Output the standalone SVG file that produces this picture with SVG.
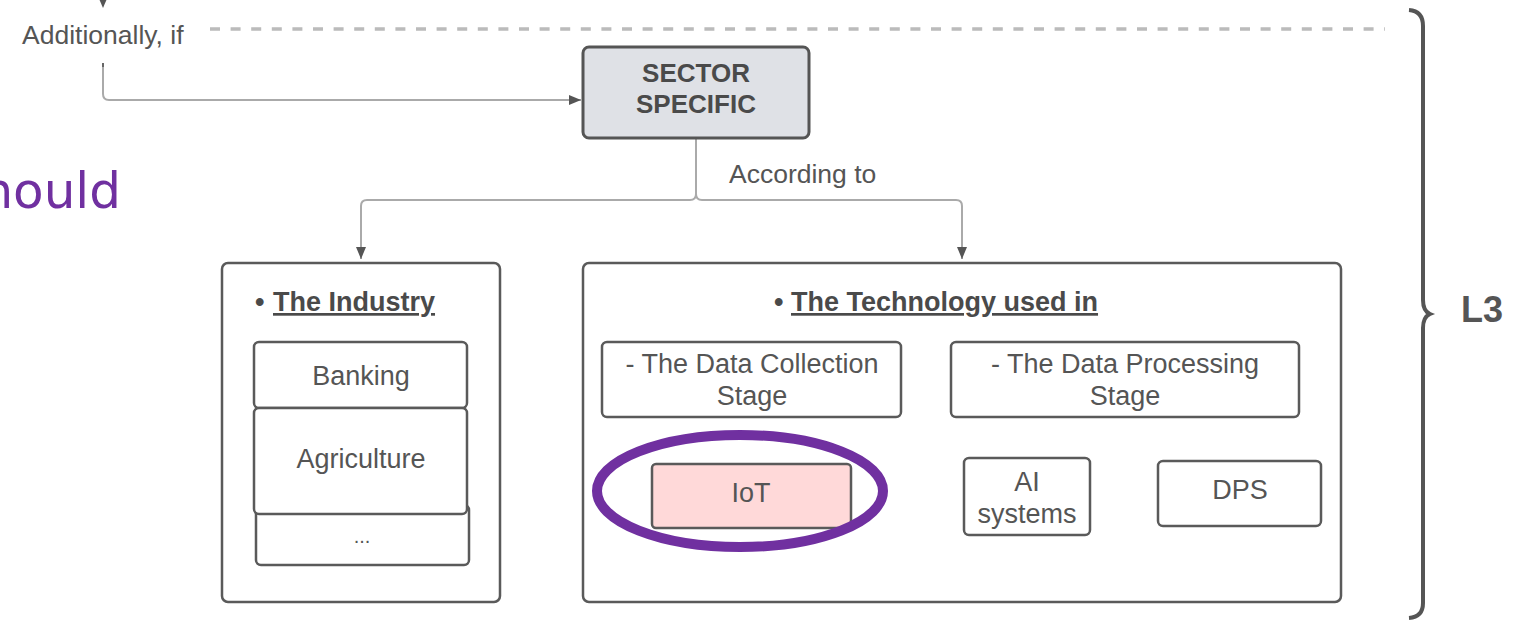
<svg xmlns="http://www.w3.org/2000/svg" width="1524" height="627" viewBox="0 0 1524 627">
<style>
.t{font-family:"Liberation Sans",Arial,sans-serif;font-size:27px;fill:#555;}
.c{text-anchor:middle;}
.b{font-weight:bold;fill:#4a4a4a;}
.box{fill:#fff;stroke:#5a5a5a;stroke-width:2.5;}
.con{fill:none;stroke:#aaa;stroke-width:2;}
</style>
<defs>
<marker id="arr" markerUnits="userSpaceOnUse" viewBox="0 0 12 10" refX="12" refY="5" markerWidth="12" markerHeight="10" orient="auto">
<path d="M0,0 L12,5 L0,10 z" fill="#555"/>
</marker>
</defs>

<g id="connectors">
<path d="M103,-10 V-1" class="con"/>
<path d="M97,-6 L109,-6 L103,8 z" fill="#555"/>
<line x1="210" y1="29" x2="1385" y2="29" stroke="#bbb" stroke-width="3.5" stroke-dasharray="10 10.6"/>
<path d="M103,63 V94 Q103,100 109,100 H581" class="con" marker-end="url(#arr)"/>
<path d="M103,63 V67" stroke="#666" stroke-width="2"/>
<path d="M696,139 V194 Q696,200 690,200 H367 Q361,200 361,206 V259" class="con" marker-end="url(#arr)"/>
<path d="M696,194 Q696,200 702,200 H956 Q962,200 962,206 V259" class="con" marker-end="url(#arr)"/>
<path d="M752,418 V461" class="con" marker-end="url(#arr)"/>
<path d="M1126,418 V433 Q1126,437 1122,437 H1032 Q1028,437 1028,441 V456" class="con" marker-end="url(#arr)"/>
<path d="M1126,433 Q1126,437 1130,437 H1236 Q1240,437 1240,441 V459" class="con" marker-end="url(#arr)"/>
</g>

<g id="label-additionally">
<text x="22" y="44" class="t" style="font-size:26.5px">Additionally, if</text>
</g>
<g id="label-should">
<text x="121" y="208" text-anchor="end" style="font-family:'DejaVu Sans',sans-serif;font-size:50px;fill:#7030a0">should</text>
</g>
<g id="label-according">
<text x="729" y="183" class="t" style="font-size:26.5px">According to</text>
</g>

<g id="sector-specific">
<rect x="583" y="47" width="226" height="91" rx="6" fill="#dfe1e6" stroke="#555" stroke-width="3"/>
<text x="696" y="82" class="t c b" style="font-size:26px">SECTOR</text>
<text x="696" y="113" class="t c b" style="font-size:26px">SPECIFIC</text>
</g>

<g id="industry">
<rect x="222" y="263" width="278" height="339" rx="6" class="box"/>
<text x="255" y="311" class="t b">•<tspan x="273" text-decoration="underline">The Industry</tspan></text>
</g>
<g id="banking">
<rect x="254" y="342" width="213" height="66" rx="5" class="box"/>
<text x="361" y="385" class="t c">Banking</text>
</g>
<g id="etc">
<rect x="256" y="505" width="213" height="60" rx="5" class="box"/>
<text x="362" y="543" class="t c" style="font-size:20px">...</text>
</g>
<g id="agriculture">
<rect x="254" y="408" width="213" height="106" rx="5" class="box"/>
<text x="361" y="468" class="t c">Agriculture</text>
</g>

<g id="technology">
<rect x="583" y="263" width="758" height="339" rx="6" class="box"/>
<text x="774" y="311" class="t b">•<tspan x="791" text-decoration="underline">The Technology used in</tspan></text>
</g>
<g id="data-collection">
<rect x="602" y="342" width="299" height="75" rx="5" class="box"/>
<text x="752" y="373" class="t c">- The Data Collection</text>
<text x="752" y="405" class="t c">Stage</text>
</g>
<g id="iot">
<rect x="652" y="464" width="199" height="64" rx="4" fill="#ffd9d9" stroke="#5a5a5a" stroke-width="2.5"/>
<text x="751" y="502" class="t c">IoT</text>
</g>
<g id="data-processing">
<rect x="951" y="342" width="348" height="75" rx="5" class="box"/>
<text x="1125" y="373" class="t c">- The Data Processing</text>
<text x="1125" y="405" class="t c">Stage</text>
</g>
<g id="ai-systems">
<rect x="964" y="458" width="126" height="77" rx="5" class="box"/>
<text x="1027" y="491" class="t c">AI</text>
<text x="1027" y="523" class="t c">systems</text>
</g>
<g id="dps">
<rect x="1158" y="461" width="163" height="65" rx="5" class="box"/>
<text x="1240" y="499" class="t c">DPS</text>
</g>

<g id="highlight">
<ellipse cx="740" cy="491" rx="143" ry="56" fill="none" stroke="#7030a0" stroke-width="10"/>
</g>

<g id="brace">
<path d="M1409,10 Q1423,11 1423,26 V300 Q1423,311 1430,314 Q1423,317 1423,328 V603 Q1423,617 1409,618" fill="none" stroke="#555" stroke-width="4"/>
<text x="1461" y="322" style="font-family:'Liberation Sans',Arial,sans-serif;font-size:36px;font-weight:bold;fill:#555">L3</text>
</g>
</svg>
